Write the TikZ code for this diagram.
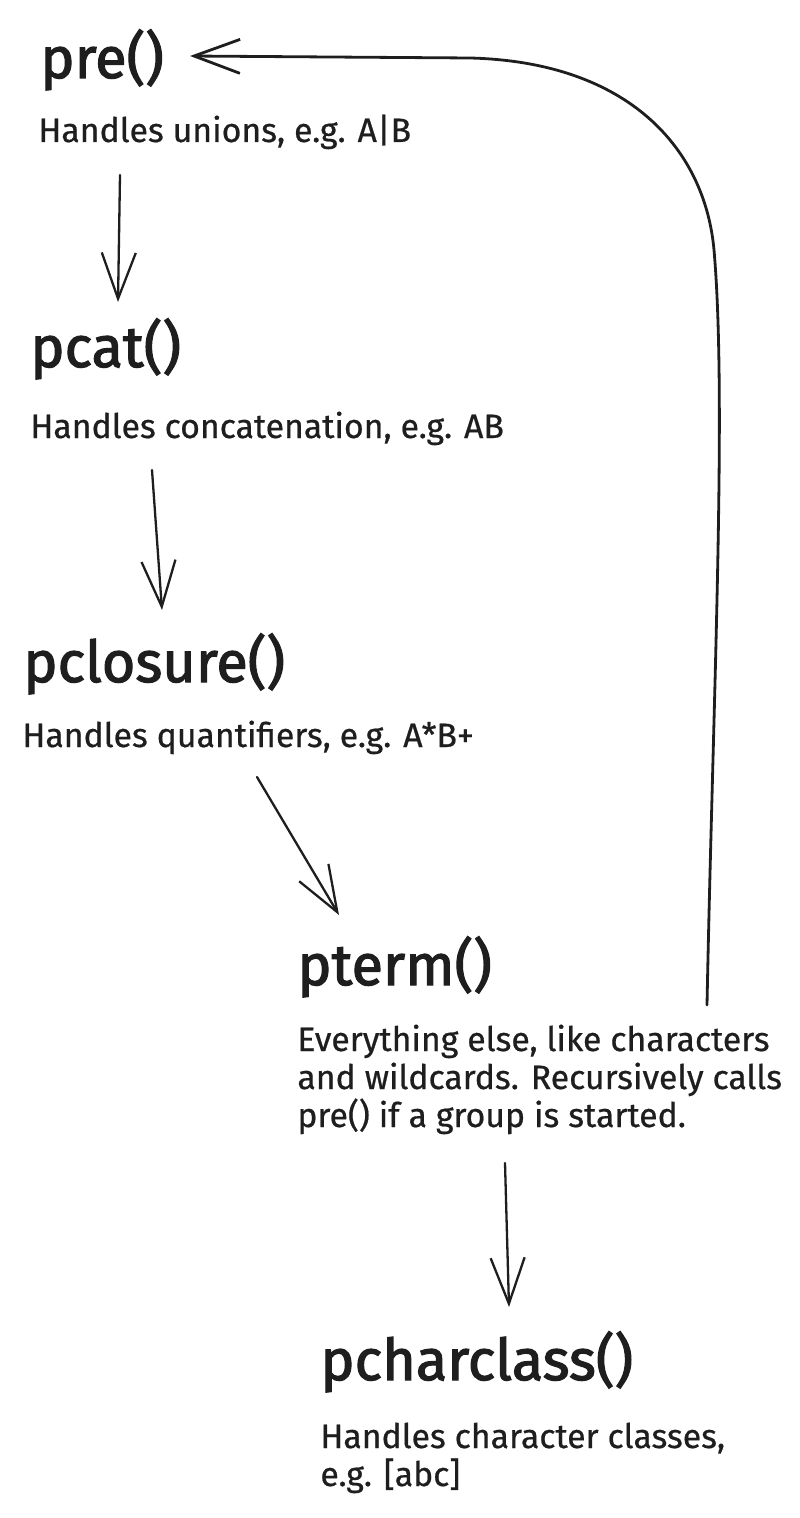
\documentclass[tikz,border=0pt]{standalone}
\usepackage{fontspec}
\setmainfont{Fira Sans}
\newfontfamily\namefont[FakeBold=2]{Fira Sans}
\newfontfamily\descfont[FakeBold=0.6]{Fira Sans}
\usepackage{tikz}
\usetikzlibrary{arrows.meta}

\definecolor{ink}{HTML}{1E1E1E}

\tikzset{
    fname/.style={anchor=base west, inner sep=0pt, text=ink, font=\namefont\fontsize{28.8}{34}\selectfont},
    fdesc/.style={anchor=base west, inner sep=0pt, text=ink, align=left, font=\descfont\fontsize{16.9}{19}\selectfont},
    flow/.style={draw=ink, line width=1.15pt, line cap=round, line join=round, -{Straight Barb[length=23pt,width=17pt]}}
}

\begin{document}
\begin{tikzpicture}[x=0.5pt,y=-0.5pt]
                % page size, same as the sketch
                \useasboundingbox (0,0) rectangle (799,1518);

                % the parser functions and what they handle
                % (base of a multi-line text is its last line)
                \node[fname] (pre) at (40,78) {pre()};
                \node[fdesc] (pre-d) at (38,142) {Handles unions, e.g. A|B};

                \node[fname] (pcat) at (30,367) {pcat()};
                \node[fdesc] (pcat-d) at (30,438) {Handles concatenation, e.g. AB};

                \node[fname] (pclosure) at (23,682) {pclosure()};
                \node[fdesc] (pclosure-d) at (22,747) {Handles quantifiers, e.g. A*B+};

                \node[fname] (pterm) at (297,985) {pterm()};
                \node[fdesc] (pterm-d) at (297,1127) {Everything else, like characters\\and wildcards. Recursively calls\\pre() if a group is started.};

                \node[fname] (pcharclass) at (320,1380) {pcharclass()};
                \node[fdesc] (pcharclass-d) at (320,1486) {Handles character classes,\\e.g. [abc]};

                % free ends of the arrows
                \coordinate (a1) at (120,175);  \coordinate (b1) at (118,302);
                \coordinate (a2) at (152,470);  \coordinate (b2) at (162,610);
                \coordinate (a3) at (257,777);  \coordinate (b3) at (339,915);
                \coordinate (a4) at (505,1163); \coordinate (b4) at (509,1307);
                \coordinate (rec) at (707,1005); \coordinate (back) at (190,56);

                % call chain
                \draw[flow] (a1) -- (b1);
                \draw[flow] (a2) -- (b2);
                \draw[flow] (a3) -- (b3);
                \draw[flow] (a4) -- (b4);

                % recursion back to pre()
                \draw[flow, line width=1.4pt] (rec) .. controls (713,700) and (727,400) .. (714,250)
                    .. controls (705,150) and (630,62) .. (470,58) -- (back);
            \end{tikzpicture}
\end{document}
